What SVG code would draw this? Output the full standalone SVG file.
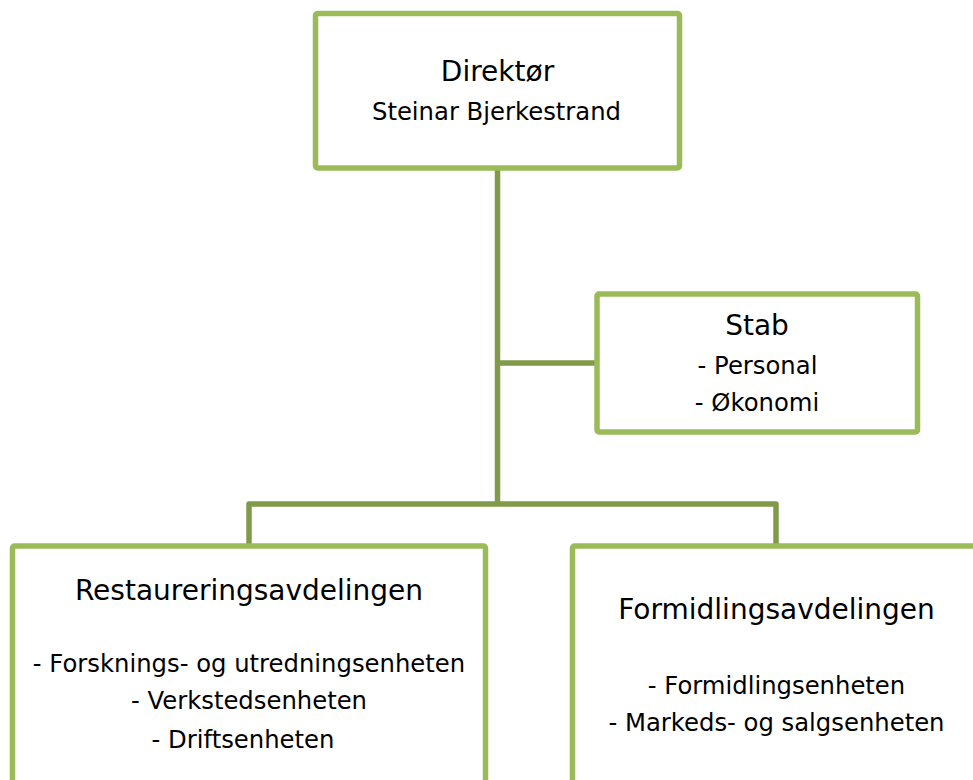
<svg xmlns="http://www.w3.org/2000/svg" width="973" height="780" viewBox="0 0 973 780">
<style>
.box{fill:#ffffff;stroke:#9bbb59;stroke-width:5.5;stroke-linejoin:round}
.conn{fill:none;stroke:#809a4a;stroke-width:5.5;stroke-linejoin:round}
text{font-family:"DejaVu Sans","Verdana",sans-serif;fill:#000;text-anchor:middle}
.t{font-size:28px}
.s{font-size:24.3px}
</style>
<rect width="973" height="780" fill="#ffffff"/>
<g id="connectors">
<path class="conn" d="M497.5,168 V504"/>
<path class="conn" d="M497.5,363 H597"/>
<path class="conn" d="M249,546 V504 H776 V546"/>
</g>
<g id="direktor">
<rect class="box" x="315.5" y="13.5" width="364" height="154.5" rx="2"/>
<text class="t" x="497.5" y="81">Direktør</text>
<text class="s" x="496.5" y="120">Steinar Bjerkestrand</text>
</g>
<g id="stab">
<rect class="box" x="597" y="294" width="320.5" height="138" rx="2"/>
<text class="t" x="757" y="335">Stab</text>
<text class="s" x="757.5" y="374">- Personal</text>
<text class="s" x="757" y="411">- Økonomi</text>
</g>
<g id="restaurering">
<rect class="box" x="12.5" y="546" width="473" height="260" rx="2"/>
<text class="t" x="249" y="600">Restaureringsavdelingen</text>
<text class="s" x="249" y="671.5">- Forsknings- og utredningsenheten</text>
<text class="s" x="249" y="708.5">- Verkstedsenheten</text>
<text class="s" x="243" y="747.5">- Driftsenheten</text>
</g>
<g id="formidling">
<rect class="box" x="572.5" y="546" width="410" height="260" rx="2"/>
<text class="t" x="776.5" y="618.5">Formidlingsavdelingen</text>
<text class="s" x="776.5" y="693.5">- Formidlingsenheten</text>
<text class="s" x="776.5" y="730.5">- Markeds- og salgsenheten</text>
</g>
</svg>
